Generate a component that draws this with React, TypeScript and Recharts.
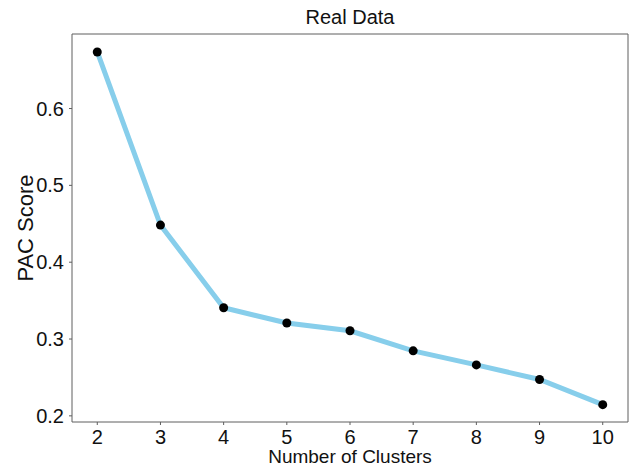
import React from "react"
import { LineChart, Line, XAxis, YAxis, ReferenceArea } from "recharts"

const clusters = [2, 3, 4, 5, 6, 7, 8, 9, 10]
const pacScores = [0.6736, 0.4483, 0.3407, 0.3208, 0.3107, 0.2846, 0.2663, 0.2473, 0.2146]
const xTicks = [2, 3, 4, 5, 6, 7, 8, 9, 10]
const yTicks = [0.2, 0.3, 0.4, 0.5, 0.6]
const xDomain = [1.6, 10.4]
const yDomain = [0.192, 0.697]

const data = clusters.map((k, i) => ({ k, pac: pacScores[i] }))

const FONT = "'Liberation Sans', Arial, sans-serif"
const AXIS_GREY = "#5e5e5e"

export default function App() {
  return (
    <div style={{ position: "absolute", left: 0, top: 0, width: 629, height: 468, background: "#fff", fontFamily: FONT }}>
      <div
        style={{
          position: "absolute",
          left: 72,
          width: 556,
          top: 6,
          textAlign: "center",
          fontSize: 20,
          color: "#111",
          lineHeight: "22px",
        }}
      >
        Real Data
      </div>
      <LineChart width={629} height={468} data={data} margin={{ top: 34, right: 1, left: 0, bottom: 0 }}>
        <XAxis
          dataKey="k"
          type="number"
          domain={xDomain}
          ticks={xTicks}
          height={46}
          axisLine={false}
          tickSize={3}
          tickMargin={5}
          tickLine={{ stroke: AXIS_GREY }}
          tick={{ fill: "#111", fontSize: 20, fontFamily: FONT }}
          label={(props: any) => {
            const vb = props.viewBox || { x: 72, width: 556, y: 422 }
            return (
              <text x={vb.x + vb.width / 2} y={463} textAnchor="middle" fontSize={19} fontFamily={FONT} fill="#111">
                Number of Clusters
              </text>
            )
          }}
        />
        <YAxis
          type="number"
          domain={yDomain}
          ticks={yTicks}
          width={72}
          axisLine={false}
          tickSize={3}
          tickMargin={5}
          tickLine={{ stroke: AXIS_GREY }}
          tick={{ fill: "#111", fontSize: 20, fontFamily: FONT }}
          tickFormatter={(v: number) => v.toFixed(1)}
          label={(props: any) => {
            const vb = props.viewBox || { y: 34, height: 388 }
            const cy = vb.y + vb.height / 2
            return (
              <text
                x={25}
                y={cy}
                transform={`rotate(-90, 25, ${cy})`}
                textAnchor="middle"
                dominantBaseline="central"
                fontSize={22}
                fontFamily={FONT}
                fill="#111"
              >
                PAC Score
              </text>
            )
          }}
        />
        <ReferenceArea
          x1={xDomain[0]}
          x2={xDomain[1]}
          y1={yDomain[0]}
          y2={yDomain[1]}
          fill="none"
          stroke={AXIS_GREY}
          strokeWidth={1}
          ifOverflow="extendDomain"
        />
        <Line
          type="linear"
          dataKey="pac"
          stroke="#87CEEB"
          strokeWidth={5}
          dot={{ r: 4.5, fill: "#000", stroke: "#000", strokeWidth: 0 }}
          activeDot={false}
          isAnimationActive={false}
        />
      </LineChart>
    </div>
  )
}
